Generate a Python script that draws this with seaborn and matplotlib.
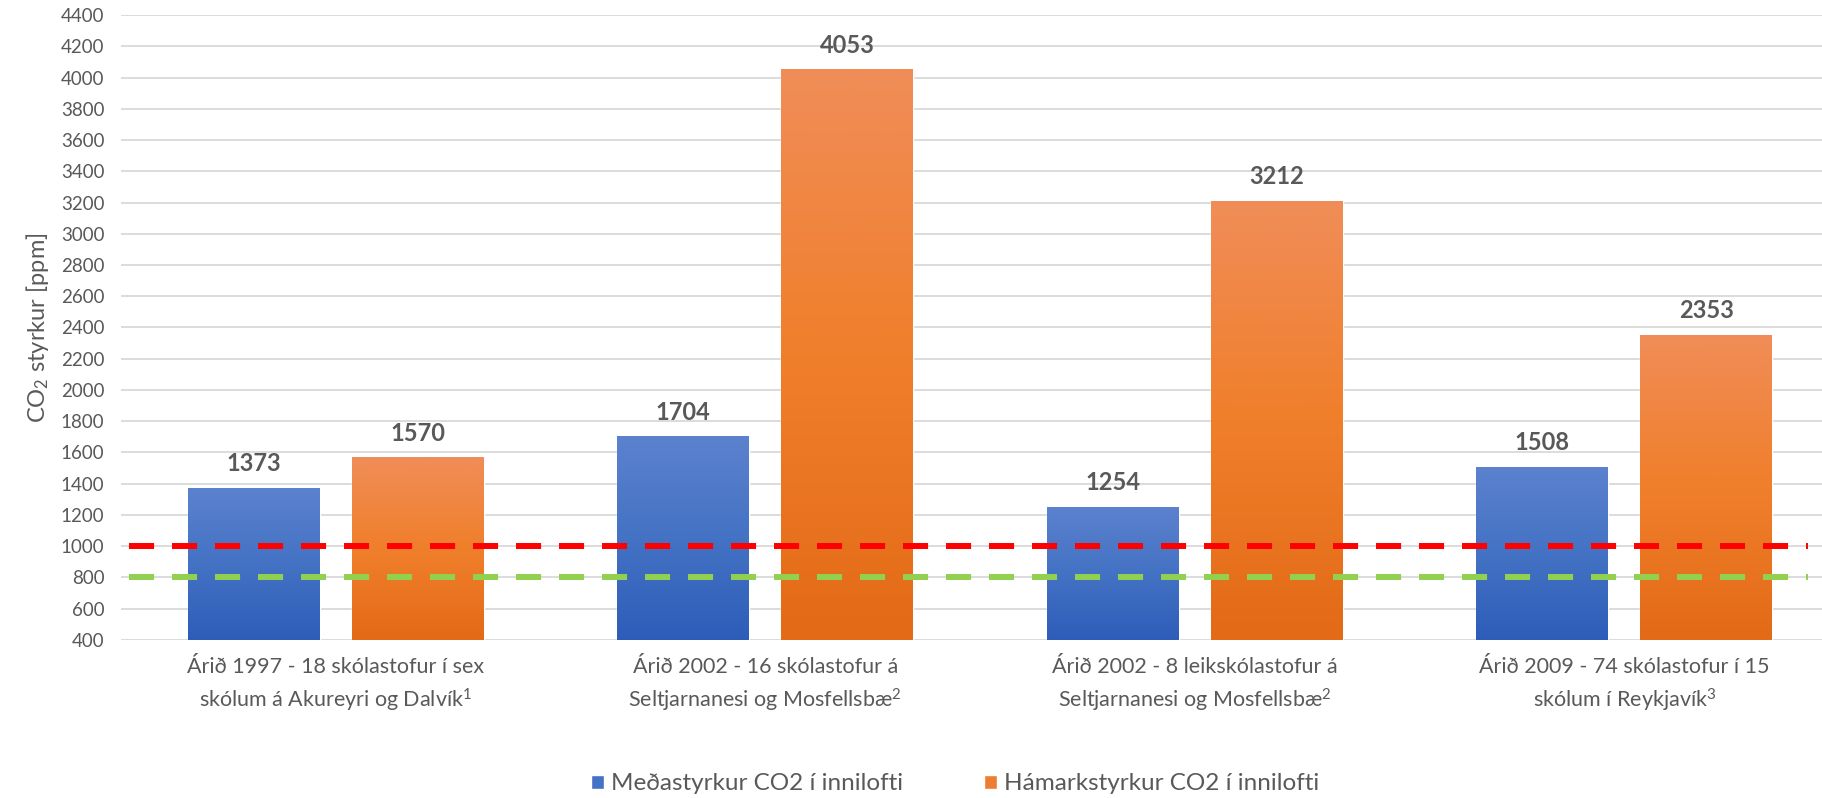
import numpy as np
import pandas as pd
import seaborn as sns
import matplotlib.pyplot as plt
from matplotlib.colors import LinearSegmentedColormap

# values
groups = ["Árið 1997 - 18 skólastofur í sex\nskólum á Akureyri og Dalvík$^1$",
          "Árið 2002 - 16 skólastofur á\nSeltjarnanesi og Mosfellsbæ$^2$",
          "Árið 2002 - 8 leikskólastofur á\nSeltjarnanesi og Mosfellsbæ$^2$",
          "Árið 2009 - 74 skólastofur í 15\nskólum í Reykjavík$^3$"]
series = ["Meðastyrkur CO2 í innilofti", "Hámarkstyrkur CO2 í innilofti"]
avg_vals = [1373, 1704, 1254, 1508]
max_vals = [1570, 4053, 3212, 2353]
limit_red = 1000
limit_green = 800

df = pd.DataFrame({
    "group": groups * 2,
    "series": [series[0]] * 4 + [series[1]] * 4,
    "value": avg_vals + max_vals,
})

sns.set_style("white")
plt.rcParams['font.family'] = ['Lato', 'DejaVu Sans']
plt.rcParams['mathtext.fontset'] = 'custom'
plt.rcParams['mathtext.rm'] = 'Lato'
plt.rcParams['mathtext.it'] = 'Lato'
grey = "#595959"

fig = plt.figure(figsize=(18.22, 7.98), dpi=100)
ax = fig.add_axes([121 / 1822, 0.198, (1839 - 121) / 1822, 0.9812 - 0.198])

sns.barplot(data=df, x="group", y="value", hue="series",
            palette=["#4472C4", "#ED7D31"], width=0.764, gap=0.196,
            ax=ax, saturation=1, errorbar=None)

# gradient fill on the bars
cmaps = [LinearSegmentedColormap.from_list("b", ["#2D5DB9", "#4472C4", "#5C82CE"]),
         LinearSegmentedColormap.from_list("o", ["#E36A17", "#F07F2B", "#F08D58"])]
grad = np.linspace(0, 1, 256).reshape(-1, 1)
for cont, cm in zip(ax.containers, cmaps):
    for bar in cont:
        x0, y0 = bar.get_x(), 400
        w, h = bar.get_width(), bar.get_height()
        im = ax.imshow(grad, cmap=cm, origin="lower", aspect="auto",
                       extent=[x0, x0 + w, y0, h], zorder=bar.get_zorder() + 0.1)
        im.set_clip_path(bar)
    ax.bar_label(cont, fmt="{:.0f}", padding=9, fontsize=17,
                 fontweight="bold", color=grey)

ax.hlines(limit_red, -0.482, 3.427, colors="#FF0000", linewidth=4.3,
          linestyles=(0, (4.2, 3)), zorder=5)
ax.hlines(limit_green, -0.482, 3.427, colors="#92D050", linewidth=4.3,
          linestyles=(0, (4.2, 3)), zorder=5)

ax.set_xlim(-0.5, 3.5)
ax.set_ylim(400, 4400)
ax.set_yticks(np.arange(400, 4401, 200))
ax.yaxis.grid(True, color="#D9D9D9", linewidth=1.3)
ax.set_axisbelow(True)
sns.despine(left=True, bottom=True)
ax.tick_params(axis="y", length=0, labelsize=13.5, labelcolor=grey, pad=12)
ax.tick_params(axis="x", length=0, labelsize=15.5, labelcolor=grey, pad=12)
for lbl in ax.get_xticklabels():
    lbl.set_linespacing(1.5)
ax.set_xlabel("")
ax.set_ylabel("CO$_2$ styrkur [ppm]", fontsize=17, color=grey, labelpad=7)

sns.move_legend(ax, "center", bbox_to_anchor=(955 / 1822, 14 / 798),
                bbox_transform=fig.transFigure, ncol=2, frameon=False,
                title=None, fontsize=17.5, handlelength=0.55, handleheight=0.55,
                columnspacing=3.3, handletextpad=0.3)
for t in ax.get_legend().get_texts():
    t.set_color(grey)

fig.savefig("out.png", dpi=100)
